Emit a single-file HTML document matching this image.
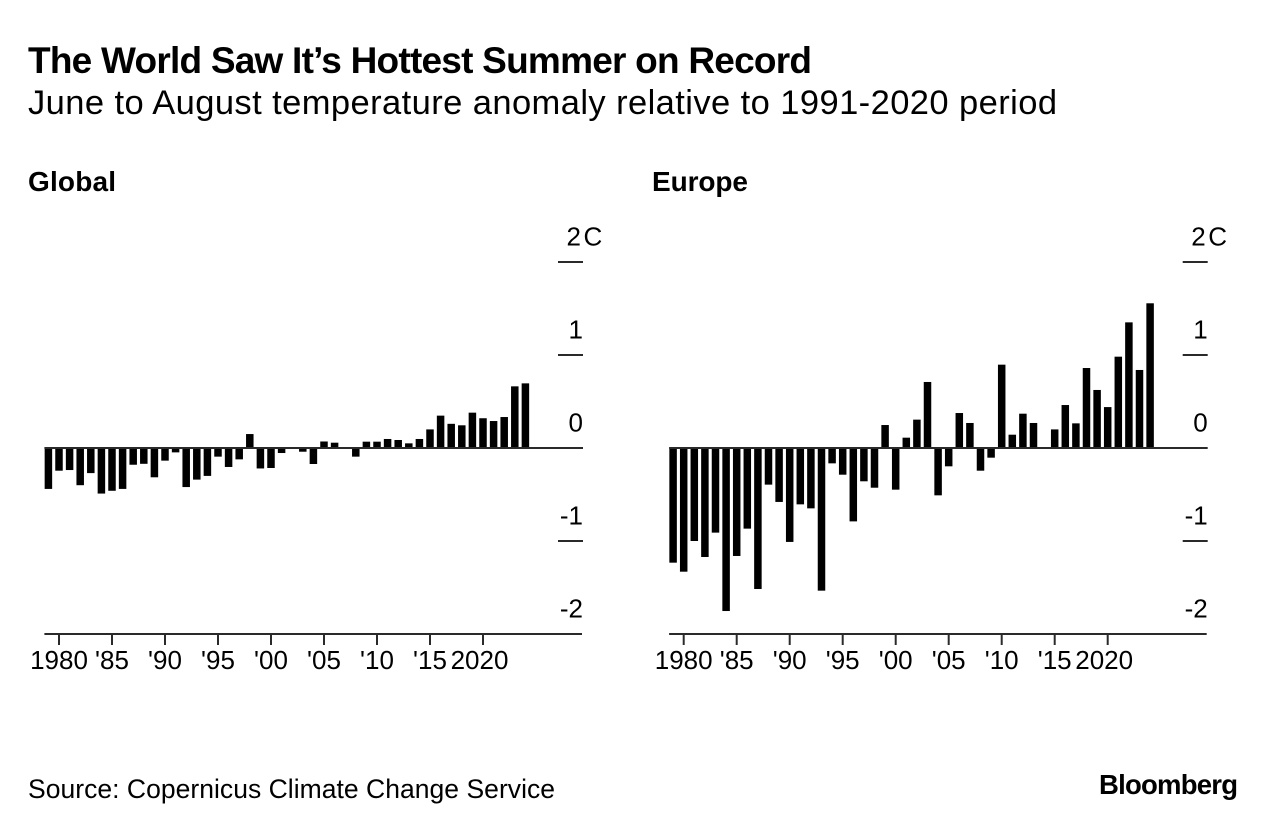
<!DOCTYPE html>
<html lang="en">
<head>
<meta charset="utf-8">
<title>The World Saw It's Hottest Summer on Record</title>
<style>
html,body{margin:0;padding:0;background:#fff;}
body{width:1277px;height:830px;overflow:hidden;}
svg{display:block;font-family:"Liberation Sans",Arial,sans-serif;fill:#000;}
.tick-label{font-size:26px;}
.axis-line{stroke:#2a2a2a;stroke-width:2;}
</style>
</head>
<body>
<svg id="chart" width="1277" height="830" viewBox="0 0 1277 830" xmlns="http://www.w3.org/2000/svg">
  <rect x="0" y="0" width="1277" height="830" fill="#fff"/>
  <text x="28" y="73" font-size="37" font-weight="700" textLength="784" lengthAdjust="spacing">The World Saw It’s Hottest Summer on Record</text>
  <text x="28" y="114" font-size="34.5" textLength="1029" lengthAdjust="spacing">June to August temperature anomaly relative to 1991-2020 period</text>
  <text x="28" y="191" font-size="28" font-weight="700" textLength="88" lengthAdjust="spacing">Global</text>
  <text x="652" y="191" font-size="28" font-weight="700" textLength="96" lengthAdjust="spacing">Europe</text>
  <g id="global-panel"></g>
  <g id="europe-panel"></g>
  <text x="28" y="798" font-size="26.5" textLength="527" lengthAdjust="spacing">Source: Copernicus Climate Change Service</text>
  <text x="1099" y="794" font-size="27.5" font-weight="700" textLength="139" lengthAdjust="spacing">Bloomberg</text>
</svg>
<script>
const firstYear = 1979;
const globalValues = [-0.44,-0.244,-0.237,-0.40,-0.27,-0.49,-0.46,-0.44,-0.18,-0.17,-0.315,-0.136,-0.047,-0.42,-0.34,-0.30,-0.093,-0.204,-0.122,0.15,-0.22,-0.215,-0.054,-0.007,-0.04,-0.172,0.07,0.057,-0.005,-0.093,0.068,0.068,0.097,0.086,0.05,0.097,0.2,0.348,0.26,0.244,0.38,0.32,0.29,0.333,0.663,0.695];
const europeValues = [-1.233,-1.33,-1.0,-1.172,-0.91,-1.753,-1.161,-0.867,-1.516,-0.394,-0.58,-1.01,-0.606,-0.649,-1.534,-0.165,-0.287,-0.789,-0.358,-0.427,0.247,-0.448,0.111,0.305,0.71,-0.509,-0.197,0.376,0.269,-0.244,-0.104,0.896,0.143,0.369,0.269,-0.007,0.2,0.462,0.265,0.86,0.624,0.44,0.982,1.351,0.839,1.556];
const xTickYears = [1980,1985,1990,1995,2000,2005,2010,2015,2020];
const xTickLabels = ['1980',"'85","'90","'95","'00","'05","'10","'15",'2020'];
const yTickValues = [2,1,0,-1,-2];
const yTickLabels = ['2','1','0','-1','-2'];
const yUnit = 'C';

const SVG_NS = 'http://www.w3.org/2000/svg';
const yScale = v => 448 - v * 93;

function line(parent, x1, y1, x2, y2) {
  const el = document.createElementNS(SVG_NS, 'line');
  el.setAttribute('x1', x1);
  el.setAttribute('y1', y1);
  el.setAttribute('x2', x2);
  el.setAttribute('y2', y2);
  el.setAttribute('class', 'axis-line');
  parent.appendChild(el);
  return el;
}

function label(parent, x, y, str, anchor) {
  const el = document.createElementNS(SVG_NS, 'text');
  el.setAttribute('x', x);
  el.setAttribute('y', y);
  el.setAttribute('text-anchor', anchor);
  el.setAttribute('class', 'tick-label');
  el.textContent = str;
  parent.appendChild(el);
  return el;
}

function drawPanel(id, values, x1980) {
  const g = document.getElementById(id);
  const xScale = year => x1980 + (year - 1980) * 10.6;
  const left = xScale(firstYear) - 4;
  const right = x1980 + 523;

  values.forEach((v, i) => {
    const year = firstYear + i;
    const r = document.createElementNS(SVG_NS, 'rect');
    r.setAttribute('x', xScale(year) - 3.75);
    r.setAttribute('width', 7.5);
    r.setAttribute('y', Math.min(yScale(v), yScale(0)));
    r.setAttribute('height', Math.abs(yScale(v) - yScale(0)));
    r.setAttribute('fill', '#000');
    
    
    g.appendChild(r);
  });

  yTickValues.forEach((v, i) => {
    const y = yScale(v);
    if (v === -2) {
      const baseline = line(g, left, y, right, y);
      
      
    } else {
      const grid = line(g, v === 0 ? left : right - 24, y, right + 1, y);
      
      
    }
    const t = label(g, i === 0 ? right - 1 : right + 1, y - 16.5, yTickLabels[i], 'end');
    
    
  });

  const unit = label(g, right + 1.5, yScale(yTickValues[0]) - 16.5, yUnit, 'start');
  
  

  xTickYears.forEach((year, i) => {
    const x = xScale(year);
    const tick = line(g, x, yScale(-2), x, yScale(-2) + 11);
    
    
    const t = label(g, i === xTickYears.length - 1 ? x - 3.5 : x, 669, xTickLabels[i], 'middle');
    
    
  });
}

drawPanel('global-panel', globalValues, 59);
drawPanel('europe-panel', europeValues, 683.7);
</script>
</body>
</html>
